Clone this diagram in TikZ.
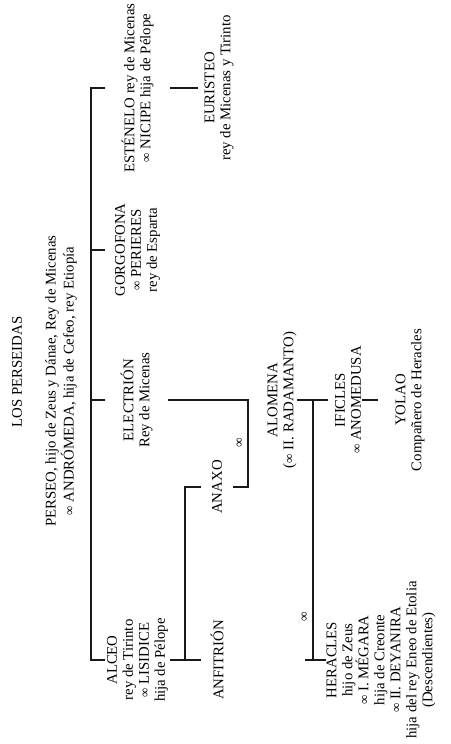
\documentclass[tikz,border=0pt]{standalone}
\usepackage{fontspec}
\setmainfont{Liberation Serif}
\usetikzlibrary{positioning, calc}
\newcommand{\wedsign}{{\fontsize{13}{13}\selectfont ∞}}
\tikzset{
  person/.style={rotate=90, align=center, inner sep=0pt, font=\fontsize{14.8}{16}\selectfont},
  kinline/.style={line width=1.3pt, color=black!90},
  wedmark/.style={rotate=90, inner sep=0pt, font=\fontsize{13.5}{13.5}\selectfont},
}

\begin{document}
\begin{tikzpicture}[x=1pt, y=-1pt]
\useasboundingbox (0,0) rectangle (450,744);
% whole tree is set sideways: page x is the generation, page y runs along the siblings
\node[person] (title) at (17,372) {LOS PERSEIDAS};
\node[person, font=\fontsize{14.8}{18}\selectfont] (perseo) at (61,381)
  {PERSEO, hijo de Zeus y Dánae, Rey de Micenas\\\wedsign{} ANDRÓMEDA, hija de Cefeo, rey Etiopía};
% first generation
\node[person, minimum height=65pt] (estenelo)  at (137.5,88)  {ESTÉNELO rey de Micenas\\\wedsign{} NICIPE hija de Pélope};
\node[person, minimum height=65pt] (gorgofona) at (137.5,250) {GORGOFONA\\\wedsign{} PERIERES\\rey de Esparta};
\node[person, minimum height=63pt] (electrion) at (136.5,400) {ELECTRIÓN\\Rey de Micenas};
\node[person, minimum height=65pt] (alceo)     at (137.5,660) {ALCEO\\rey de Tirinto\\\wedsign{} LISIDICE\\hija de Pélope};
% second generation
\node[person, minimum height=42pt] (euristeo)  at (219,88)  {EURISTEO\\rey de Micenas y Tirinto};
\node[person, minimum height=32pt] (anaxo)     at (217,487) {ANAXO};
\node[person, minimum height=32pt] (anfitrion) at (217,660) {ANFITRIÓN};
\node[person, minimum height=30pt] (alomena)   at (282,400) {ALOMENA\\(\wedsign{} II. RADAMANTO)};
% third generation
\node[person, minimum height=40pt]  (ificles)  at (348,400) {IFICLES\\\wedsign{} ANOMEDUSA};
\node[person, minimum height=64pt]  (yolao)    at (410,400) {YOLAO\\Compañero de Heracles};
\node[person, minimum height=106pt] (heracles) at (381,660)
  {HERACLES\\hijo de Zeus\\\wedsign{} I. MÉGARA\\hija de Creonte\\\wedsign{} II. DEYANIRA\\hija del rey Eneo de Etolia\\(Descendientes)};
% bracket columns
\coordinate (trunk) at (91,0);
\coordinate (kin)   at (185,0);
\coordinate (wed)   at (248,0);
\coordinate (bond)  at (313,0);
\draw[kinline] (estenelo.north) -| (trunk |- alceo.north) -- (alceo.north);
\draw[kinline] (gorgofona.north) -- (trunk |- gorgofona.north);
\draw[kinline] (electrion.north) -- (trunk |- electrion.north);
\draw[kinline] (estenelo.south) -- (euristeo.north);
\draw[kinline] (electrion.south) -| (wed |- anaxo.south) -- (anaxo.south);
\draw[kinline] (alceo.south) -- (anfitrion.north);
\draw[kinline] (anaxo.north) -| (kin |- anfitrion.north);
\draw[kinline] (alomena.south) -- (ificles.north);
\draw[kinline] (heracles.north) -- ($(bond |- heracles.north)+(-8,0)$);
\draw[kinline] (bond |- heracles.north) -- (bond |- ificles.north);
\draw[kinline, shorten <=-6pt] (ificles.south) -- (yolao.north);
\node[wedmark] (wedA) at (240,443) {∞};
\node[wedmark] (wedB) at (305,617) {∞};
\end{tikzpicture}
\end{document}
